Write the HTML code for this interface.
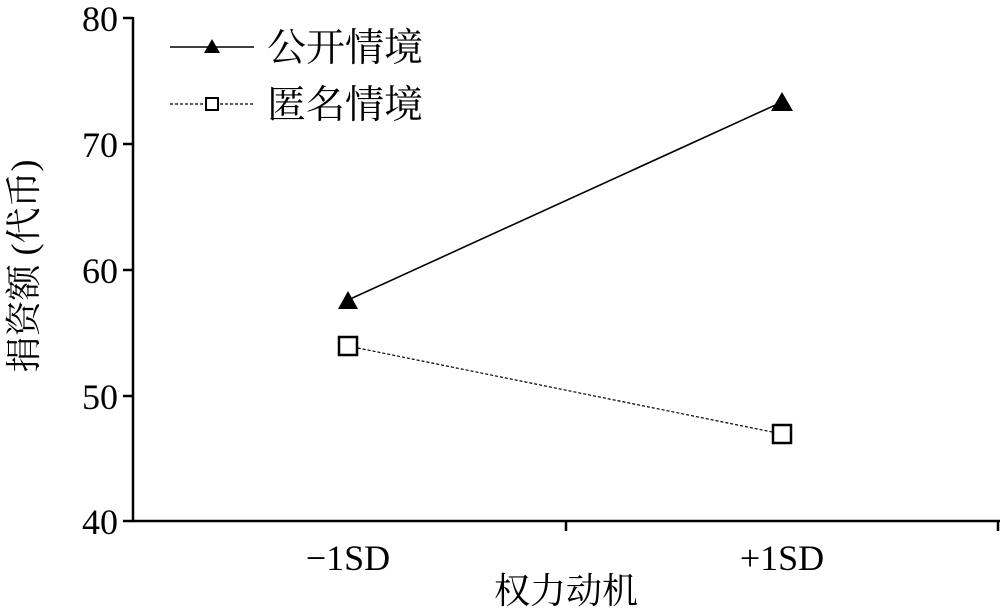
<!DOCTYPE html>
<html><head><meta charset="utf-8"><style>
html,body{margin:0;padding:0;background:#fff;}
svg{display:block;}
text{font-family:"Liberation Serif","Times New Roman",serif;fill:#000;}
.c{font-family:"Liberation Serif","Noto Serif CJK SC",serif;}
</style></head><body>
<svg width="1000" height="610" viewBox="0 0 1000 610" xmlns="http://www.w3.org/2000/svg">
<g stroke="#000" stroke-width="2.5" fill="none">
<line x1="133" y1="17" x2="133" y2="522"/>
<line x1="132" y1="521" x2="1000" y2="521"/>
<line x1="123" y1="18" x2="133" y2="18"/>
<line x1="123" y1="144" x2="133" y2="144"/>
<line x1="123" y1="270" x2="133" y2="270"/>
<line x1="123" y1="396" x2="133" y2="396"/>
<line x1="123" y1="521" x2="133" y2="521"/>
<line x1="566" y1="521" x2="566" y2="531"/>
<line x1="998" y1="521" x2="998" y2="531"/>
</g>
<g font-size="36" text-anchor="end">
<text x="118" y="31">80</text>
<text x="118" y="157">70</text>
<text x="118" y="283">60</text>
<text x="118" y="409">50</text>
<text x="118" y="534">40</text>
</g>
<text x="348" y="570" font-size="36" text-anchor="middle">−1SD</text>
<text x="782" y="570" font-size="36" text-anchor="middle">+1SD</text>
<text class="c" x="566" y="603" font-size="36" text-anchor="middle">权力动机</text>
<text class="c" transform="translate(36,266) rotate(-90)" font-size="36" text-anchor="middle">捐资额 (代币)</text>
<line x1="348" y1="300" x2="782" y2="102" stroke="#000" stroke-width="1.6"/>
<line x1="348" y1="346" x2="782" y2="434" stroke="#000" stroke-width="1.2" stroke-dasharray="3,2"/>
<polygon points="348,291 338,309 358,309" fill="#000"/>
<polygon points="782,92 771,111 793,111" fill="#000"/>
<rect x="339" y="337" width="18" height="18" fill="#fff" stroke="#000" stroke-width="2.5"/>
<rect x="773" y="425" width="18" height="18" fill="#fff" stroke="#000" stroke-width="2.5"/>
<line x1="170" y1="47" x2="254" y2="47" stroke="#000" stroke-width="1.6"/>
<polygon points="212,39 204,53 220,53" fill="#000"/>
<line x1="170" y1="104" x2="254" y2="104" stroke="#000" stroke-width="1.2" stroke-dasharray="3,2"/>
<rect x="206" y="98" width="12" height="12" fill="#fff" stroke="#000" stroke-width="2"/>
<text class="c" x="267" y="61" font-size="39">公开情境</text>
<text class="c" x="267" y="118" font-size="39">匿名情境</text>
</svg>
</body></html>
